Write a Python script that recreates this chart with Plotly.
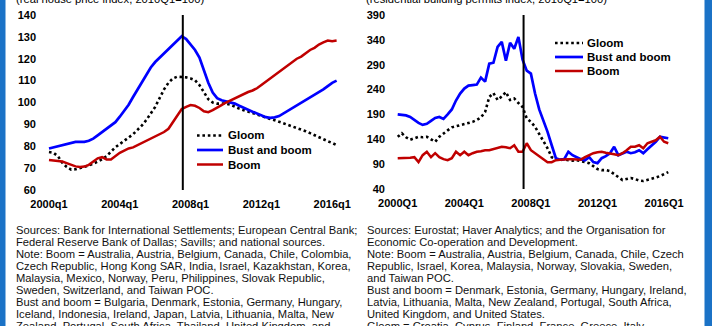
import plotly.graph_objects as go

W, H = 712, 326

# ---------------- data ----------------
n_q = 66  # 2000Q1 .. 2016Q2
quarter_t = [q / 4 for q in range(n_q)]
tick_t = [0, 4, 8, 12, 16]
left_ticktext = ["2000q1", "2004q1", "2008q1", "2012q1", "2016q1"]
right_ticktext = ["2000Q1", "2004Q1", "2008Q1", "2012Q1", "2016Q1"]
crisis_t = 7.56

# Left panel: real house price index, 2010Q1=100
hp_gloom = [77.4, 77.0, 75.5, 72.5, 70.5, 69.3, 69.5, 70.0, 70.5, 71.2, 72.0, 73.0,
            74.0, 75.5, 77.5, 79.5, 81.0, 82.5, 84.0, 85.5, 87.5, 89.5, 92.0, 95.0,
            98.0, 102.0, 106.0, 109.0, 111.0, 111.8, 111.8, 111.5, 111.0, 110.2, 108.0, 105.0,
            101.5, 100.0, 99.5, 99.5, 99.5, 99.0, 98.0, 97.2, 96.5, 95.8, 95.0, 94.3,
            93.7, 93.1, 92.5, 91.9, 91.2, 90.5, 89.9, 89.2, 88.5, 87.7, 86.9, 86.0,
            85.0, 84.0, 83.1, 82.3, 81.5, 80.5]
hp_bust_boom = [79.0, 79.5, 80.0, 80.5, 81.0, 81.5, 82.0, 82.0, 82.0, 82.5, 83.5, 85.0,
                86.5, 88.0, 89.5, 91.0, 93.5, 96.0, 99.0, 102.5, 106.0, 109.5, 113.0, 116.0,
                118.5, 120.5, 122.5, 124.5, 126.5, 128.5, 130.3, 129.0, 126.5, 124.0, 120.5, 115.0,
                109.0, 104.5, 102.0, 101.0, 100.5, 100.0, 99.5, 98.5, 97.5, 96.5, 95.8, 95.0,
                94.0, 93.3, 93.0, 93.2, 93.8, 95.0, 96.3, 97.5, 98.8, 100.0, 101.0, 102.3,
                103.5, 104.8, 106.0, 107.5, 109.0, 110.0]
hp_boom = [73.7, 73.5, 73.2, 73.0, 72.3, 71.5, 70.8, 70.5, 70.7, 71.5, 73.0, 74.5,
           75.0, 74.0, 74.0, 75.5, 77.0, 78.0, 79.0, 79.5, 80.5, 81.5, 82.5, 83.5,
           84.5, 85.5, 86.5, 88.0, 91.0, 94.0, 97.0, 98.0, 98.8, 98.5, 97.5, 96.0,
           95.6, 96.5, 97.5, 98.8, 100.0, 101.0, 102.0, 103.0, 104.0, 104.8, 105.5, 106.5,
           108.0, 109.5, 111.0, 112.5, 114.0, 115.5, 117.0, 118.5, 120.0, 121.0, 122.5, 124.0,
           125.0, 126.5, 127.5, 128.3, 128.0, 128.3]

# Right panel: residential building permits index, 2010Q1=100
bp_gloom = [145, 152, 144, 139, 142, 145, 144, 145, 140, 135, 145, 152,
            158, 164, 166, 168, 170, 172, 175, 179, 184, 195, 225, 233,
            219, 226, 235, 219, 222, 213, 205, 182, 175, 165, 150, 138,
            122, 104, 100, 98, 100, 98, 97, 98, 96, 94, 92, 86,
            80, 78, 78, 76, 70, 64, 58, 60, 62, 60, 57, 56,
            58, 60, 63, 66, 70, 74]
bp_bust_boom = [190, 189, 188, 185, 179, 173, 169, 171, 177, 183, 185, 181,
                190, 200, 218, 232, 242, 248, 249, 250, 264, 256, 292, 294,
                326, 336, 298, 334, 322, 346, 300, 278, 272, 232, 200, 178,
                155, 128, 102, 99, 100, 115, 108, 104, 100, 98, 104, 94,
                92, 102, 106, 112, 125, 108, 112, 115, 112, 114, 118, 112,
                120, 127, 135, 145, 143, 142]
bp_boom = [102, 102, 102, 103, 104, 94, 108, 115, 104, 112, 104, 100,
           98, 102, 115, 108, 115, 108, 112, 115, 116, 118, 118, 120,
           122, 125, 124, 122, 128, 115, 115, 132, 118, 112, 106, 100,
           94, 94, 98, 99, 100, 100, 100, 100, 99, 104, 108, 112,
           114, 115, 113, 112, 110, 108, 112, 118, 125, 125, 128, 122,
           132, 135, 138, 145, 135, 132]

series_names = ["Gloom", "Bust and boom", "Boom"]

left_note = [
    "Sources: Bank for International Settlements; European Central Bank;",
    "Federal Reserve Bank of Dallas; Savills; and national sources.",
    "Note: Boom = Australia, Austria, Belgium, Canada, Chile, Colombia,",
    "Czech Republic, Hong Kong SAR, India, Israel, Kazakhstan, Korea,",
    "Malaysia, Mexico, Norway, Peru, Philippines, Slovak Republic,",
    "Sweden, Switzerland, and Taiwan POC.",
    "Bust and boom = Bulgaria, Denmark, Estonia, Germany, Hungary,",
    "Iceland, Indonesia, Ireland, Japan, Latvia, Lithuania, Malta, New",
    "Zealand, Portugal, South Africa, Thailand, United Kingdom, and",
]
right_note = [
    "Sources: Eurostat; Haver Analytics; and the Organisation for",
    "Economic Co-operation and Development.",
    "Note: Boom = Australia, Austria, Belgium, Canada, Chile, Czech",
    "Republic, Israel, Korea, Malaysia, Norway, Slovakia, Sweden,",
    "and Taiwan POC.",
    "Bust and boom = Denmark, Estonia, Germany, Hungary, Ireland,",
    "Latvia, Lithuania, Malta, New Zealand, Portugal, South Africa,",
    "United Kingdom, and United States.",
    "Gloom = Croatia, Cyprus, Finland, France, Greece, Italy,",
]
left_sub = "(real house price index, 2010Q1=100)"
right_sub = "(residential building permits index, 2010Q1=100)"

# ---------------- styles ----------------
FONT = "Liberation Sans, Arial, sans-serif"
BLUE = "#0000FF"
RED = "#C00000"
BLACK = "#000000"
FRAME = "#1B72C6"
styles = {
    "Gloom": dict(color=BLACK, width=2.6, dash="2.6px,2.8px"),
    "Bust and boom": dict(color=BLUE, width=2.7),
    "Boom": dict(color=RED, width=2.5),
}


def px(p):
    return p / W


def py(p):
    return 1 - p / H


fig = go.Figure()

left_data = {"Gloom": hp_gloom, "Bust and boom": hp_bust_boom, "Boom": hp_boom}
right_data = {"Gloom": bp_gloom, "Bust and boom": bp_bust_boom, "Boom": bp_boom}
for name in series_names:
    fig.add_trace(go.Scatter(x=quarter_t, y=left_data[name], mode="lines", name=name,
                             line=styles[name], xaxis="x", yaxis="y", showlegend=False))
for name in series_names:
    fig.add_trace(go.Scatter(x=quarter_t, y=right_data[name], mode="lines", name=name,
                             line=styles[name], xaxis="x2", yaxis="y2", showlegend=False))

tickfont = dict(family=FONT, size=11, color=BLACK, weight="bold")
common_x = dict(showgrid=False, zeroline=False, showline=False, ticks="", tickvals=tick_t,
                tickfont=tickfont, ticklabelstandoff=6, fixedrange=True, automargin=False)
common_y = dict(showgrid=False, zeroline=False, showline=False, ticks="",
                tickfont=tickfont, ticklabelstandoff=7, fixedrange=True, automargin=False)

fig.update_layout(
    width=W, height=H, margin=dict(l=0, r=0, t=0, b=0, autoexpand=False),
    paper_bgcolor="white", plot_bgcolor="white", showlegend=False,
    xaxis=dict(common_x, domain=[px(44), px(344)], range=[-0.282, 16.667],
               ticktext=left_ticktext, anchor="y"),
    yaxis=dict(common_y, domain=[py(190), py(15)], range=[60, 140],
               tickvals=list(range(60, 141, 10)), anchor="x"),
    xaxis2=dict(common_x, domain=[px(393), px(675)], range=[-0.282, 16.655],
                ticktext=right_ticktext, anchor="y2"),
    yaxis2=dict(common_y, domain=[py(189), py(15)], range=[40, 390],
                tickvals=list(range(40, 391, 50)), anchor="x2"),
)

# crisis vertical lines (data coordinates)
fig.add_shape(type="line", xref="x", yref="y", x0=crisis_t, x1=crisis_t, y0=60, y1=140,
              line=dict(color=BLACK, width=2))
fig.add_shape(type="line", xref="x2", yref="y2", x0=crisis_t, x1=crisis_t, y0=40, y1=390,
              line=dict(color=BLACK, width=2))


# manual legends
def add_legend(x0, x1, xt, ys):
    for name, yy in zip(series_names, ys):
        st = styles[name]
        fig.add_shape(type="line", xref="paper", yref="paper", x0=px(x0), x1=px(x1),
                      y0=py(yy), y1=py(yy), line=st)
        fig.add_annotation(xref="paper", yref="paper", x=px(xt), y=py(yy), text=name,
                           showarrow=False, xanchor="left", yanchor="middle", borderpad=0,
                           font=dict(family=FONT, size=11.5, color=BLACK, weight="bold"))

add_legend(197, 223, 227, [135.5, 150, 164.5])
add_legend(555, 583, 586, [43, 57, 71])

# subtitles (partly cut at top, as in the source)
fig.add_annotation(xref="paper", yref="paper", x=px(15), y=py(-0.5), text=left_sub,
                   showarrow=False, xanchor="left", yanchor="middle", borderpad=0,
                   font=dict(family=FONT, size=11.2, color=BLACK))
fig.add_annotation(xref="paper", yref="paper", x=px(365), y=py(-0.5), text=right_sub,
                   showarrow=False, xanchor="left", yanchor="middle", borderpad=0,
                   font=dict(family=FONT, size=11.2, color=BLACK))

# notes
for xs, lines in ((15, left_note), (366, right_note)):
    for i, line in enumerate(lines):
        fig.add_annotation(xref="paper", yref="paper", x=px(xs), y=py(230 + 12 * i),
                           text=line, showarrow=False, xanchor="left", yanchor="middle",
                           borderpad=0, font=dict(family=FONT, size=11.2, color="#111111"))

# blue frame strips
fig.add_shape(type="rect", xref="paper", yref="paper", x0=0, x1=px(5.5), y0=0, y1=1,
              fillcolor=FRAME, line=dict(width=0), layer="above")
fig.add_shape(type="rect", xref="paper", yref="paper", x0=px(704.5), x1=1, y0=0, y1=1,
              fillcolor=FRAME, line=dict(width=0), layer="above")

fig.write_html("out.html")
